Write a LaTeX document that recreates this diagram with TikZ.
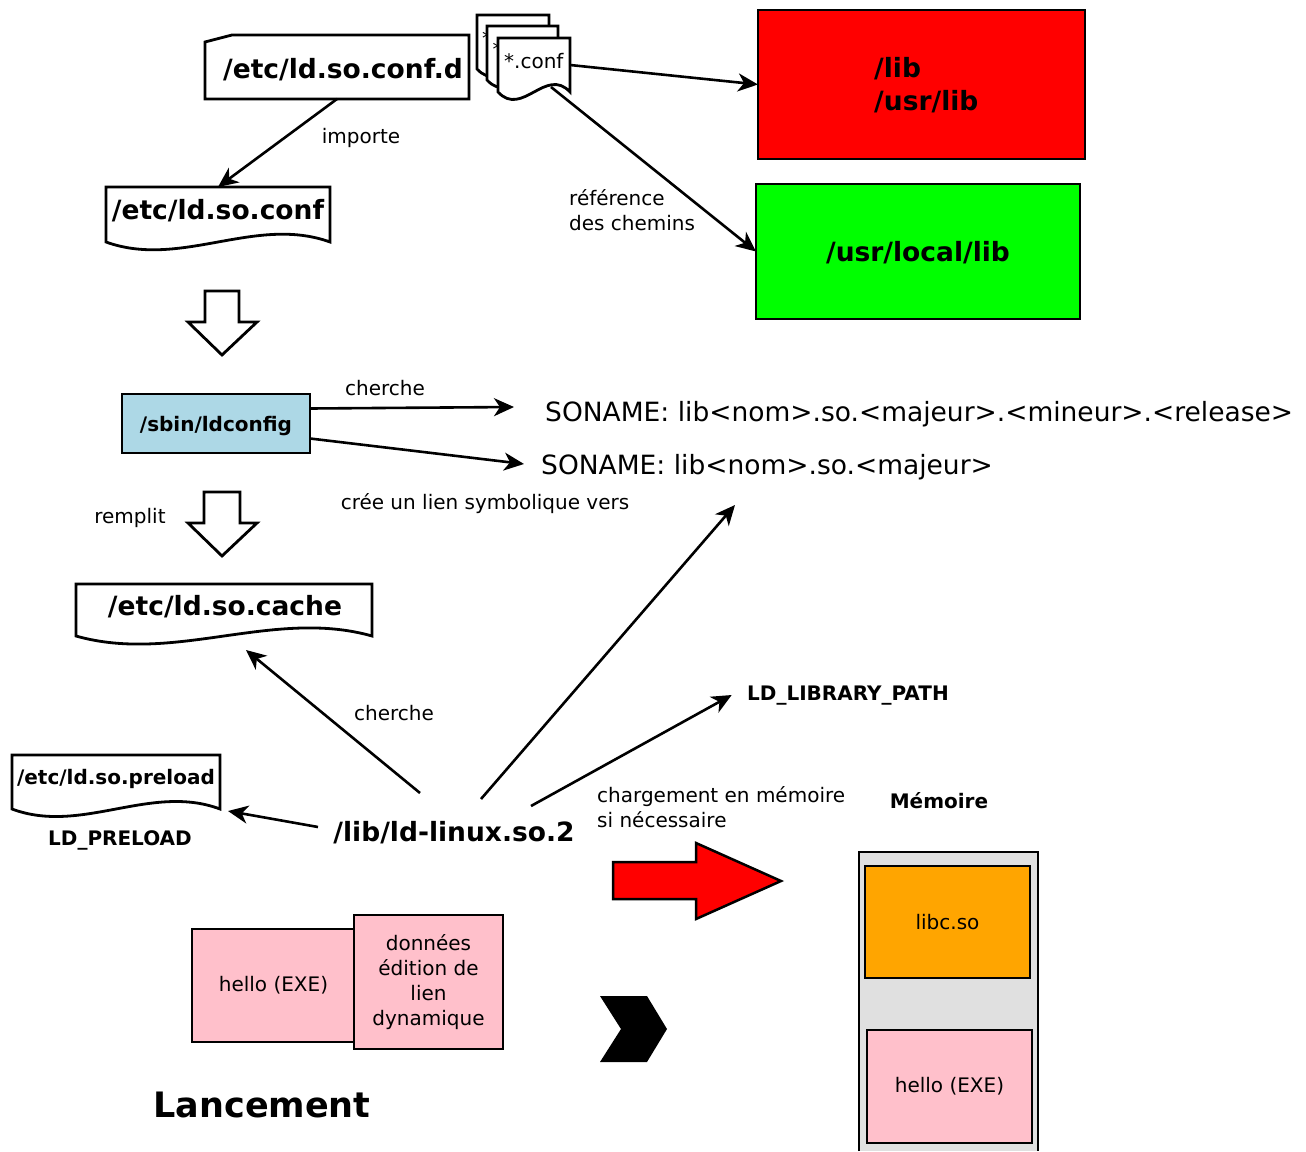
\documentclass[tikz,border=0pt]{standalone}
\usepackage{fontspec}
\setmainfont{DejaVu Sans}
\usetikzlibrary{arrows.meta,calc}

\definecolor{ldblue}{RGB}{173,216,230}
\definecolor{libred}{RGB}{255,0,0}
\definecolor{libgreen}{RGB}{0,255,0}
\definecolor{libcorange}{RGB}{255,165,0}
\definecolor{exepink}{RGB}{255,192,203}
\definecolor{memgray}{RGB}{224,224,224}

% document sheet with a wavy lower edge: name, centre, width, height, wave depth
\newcommand{\wavedoc}[5]{%
  \node[area={#3}{#4}] (#1) at #2 {};
  \draw[outl, fill=white] (#1.north west) -- (#1.north east) -- (#1.south east)
    .. controls ($(#1.south east)!0.3333!(#1.south west)+(0,-#5)$)
       and ($(#1.south east)!0.6667!(#1.south west)+(0,#5)$) .. (#1.south west) -- cycle;}

\tikzset{
  outl/.style={line width=2.8pt, draw=black, line join=miter},
  area/.style 2 args={minimum width=#1pt, minimum height=#2pt, inner sep=0pt, outer sep=0pt},
  colbox/.style={outl},
  conn/.style={line width=2.6pt, -{Stealth[length=20pt,width=18pt,inset=6pt]}},
  bigtxt/.style={font=\fontsize{26.5}{33}\selectfont\bfseries},
  soname/.style={font=\fontsize{26.5}{33}\selectfont, anchor=west, inner sep=0pt},
  labtxt/.style={font=\fontsize{20}{25}\selectfont},
  boldlab/.style={font=\fontsize{20}{25}\selectfont\bfseries},
  hollow/.style={outl, fill=white},
  sheettxt/.style={labtxt, anchor=west, inner sep=0pt},
}

\begin{document}
\begin{tikzpicture}[x=1pt,y=-1pt]
\useasboundingbox (0,0) rectangle (1306,1151);

% ---- configuration directory and files ----
\node[area={264}{64}] (confd) at (337,67) {};
\draw[outl, fill=white] ($(confd.north west)+(0,7)$) -- ($(confd.north west)+(27,0)$)
  -- (confd.north east) -- (confd.south east) -- (confd.south west) -- cycle;
\node[bigtxt] at (343,70) {/etc/ld.so.conf.d};

\wavedoc{conf}{(218,214.5)}{224}{55}{27}
\node[bigtxt] at (218,211) {/etc/ld.so.conf};

% stacked *.conf sheets, back to front
\wavedoc{confA}{(513,42)}{72}{54}{26}
\node[sheettxt] at (482,38) {*};
\wavedoc{confB}{(522.5,53)}{71}{54}{26}
\node[sheettxt] at (492.5,49) {*};
\wavedoc{confC}{(534,65)}{72}{54}{26}
\node[sheettxt] at (504,61) {*.conf};

% ---- library directories ----
\node[colbox, fill=libred, area={327}{149}] (syslib) at (921.5,84.5) {};
\node[bigtxt, align=left, anchor=west, inner sep=0pt] at (874,85) {/lib\\/usr/lib};
\node[colbox, fill=libgreen, area={324}{135}, bigtxt, text depth=0pt] (loclib) at (918,251.5) {/usr/local/lib};

\draw[conn] (confd.south) -- (conf.north);
\node[labtxt] at (361,138) {importe};
\draw[conn] (confC.east) -- (syslib.west);
\coordinate (confC-foot) at (551,87);
\draw[conn] (confC-foot) -- (loclib.west);
\node[labtxt, align=left, anchor=west, inner sep=0pt] at (569,210) {référence\\des chemins};

% ---- ldconfig ----
\draw[hollow] (205,291) -- (239,291) -- (239,322) -- (257,322) -- (222,355)
  -- (188,322) -- (205,322) -- cycle;

\node[colbox, fill=ldblue, area={188}{59}, boldlab, text depth=0pt] (ldc) at (216,423.5) {/sbin/ldconfig};
\node[soname] (so1) at (545,414) {SONAME: lib<nom>.so.<majeur>.<mineur>.<release>};
\node[soname] (so2) at (541,467) {SONAME: lib<nom>.so.<majeur>};
\coordinate (so1-in) at (514,407);
\coordinate (so2-in) at (524,464);
\draw[conn] ($(ldc.east)+(0,-15)$) -- (so1-in);
\draw[conn] ($(ldc.east)+(0,15)$) -- (so2-in);
\node[labtxt] at (385,388) {cherche};
\node[labtxt] at (485,504) {crée un lien symbolique vers};

\node[labtxt] at (130,518) {remplit};
\draw[hollow] (204,492) -- (240,492) -- (240,523) -- (257,523) -- (222,556)
  -- (188,523) -- (204,523) -- cycle;

\wavedoc{cache}{(224,610)}{296}{52}{28}
\node[bigtxt] at (225,607) {/etc/ld.so.cache};

\wavedoc{preload}{(116,782)}{208}{54}{26}
\node[boldlab] at (116,779) {/etc/ld.so.preload};
\node[boldlab] at (120,840) {LD\_PRELOAD};

% ---- dynamic loader ----
\node[bigtxt] (ll) at (454,833) {/lib/ld-linux.so.2};
\node[boldlab] (ldp) at (848,696) {LD\_LIBRARY\_PATH};

\coordinate (ll-cache) at ($(ll)+(-34,-40)$);
\coordinate (ll-so) at ($(ll)+(27,-34)$);
\coordinate (ll-path) at ($(ll)+(77,-27)$);
\coordinate (ll-pre) at ($(ll)+(-136,-6)$);
\coordinate (cache-in) at ($(cache.south west)+(170,14)$);
\coordinate (so2-link) at (735,505);
\coordinate (ldp-in) at ($(ldp.west)+(-12,-1)$);
\coordinate (preload-in) at ($(preload.south east)+(8,2)$);

\draw[conn] (ll-cache) -- (cache-in);
\draw[conn] (ll-so) -- (so2-link);
\draw[conn] (ll-path) -- (ldp-in);
\draw[conn] (ll-pre) -- (preload-in);
\node[labtxt] at (394,713) {cherche};
\node[labtxt, align=left, anchor=west, inner sep=0pt] at (597,807) {chargement en mémoire\\si nécessaire};

% ---- program image and memory ----
\node[colbox, fill=exepink, area={163}{113}, labtxt] (exe) at (273.5,985.5) {hello (EXE)};
\node[colbox, fill=exepink, area={149}{134}, labtxt, align=center] (dyn) at (428.5,982)
  {données\\édition de\\lien\\dynamique};
\node[font=\fontsize{35}{42}\selectfont\bfseries] at (262,1105) {Lancement};

\draw[outl, line width=2.5pt, fill=libred] (613,862) -- (696,862) -- (696,843) -- (781,881)
  -- (696,919) -- (696,899) -- (613,899) -- cycle;
\fill[black] (600,996) -- (647,996) -- (667,1029) -- (647,1062) -- (600,1062) -- (621,1029) -- cycle;

\node[boldlab] at (939,801) {Mémoire};
\fill[memgray] (859,852) rectangle (1038,1151);
\draw[line width=2.5pt] (859,1151) -- (859,852) -- (1038,852) -- (1038,1151);
\node[colbox, fill=libcorange, area={165}{112}, labtxt] (libc) at (947.5,922) {libc.so};
\node[colbox, fill=exepink, area={165}{113}, labtxt] (exemem) at (949.5,1086.5) {hello (EXE)};
\end{tikzpicture}
\end{document}
